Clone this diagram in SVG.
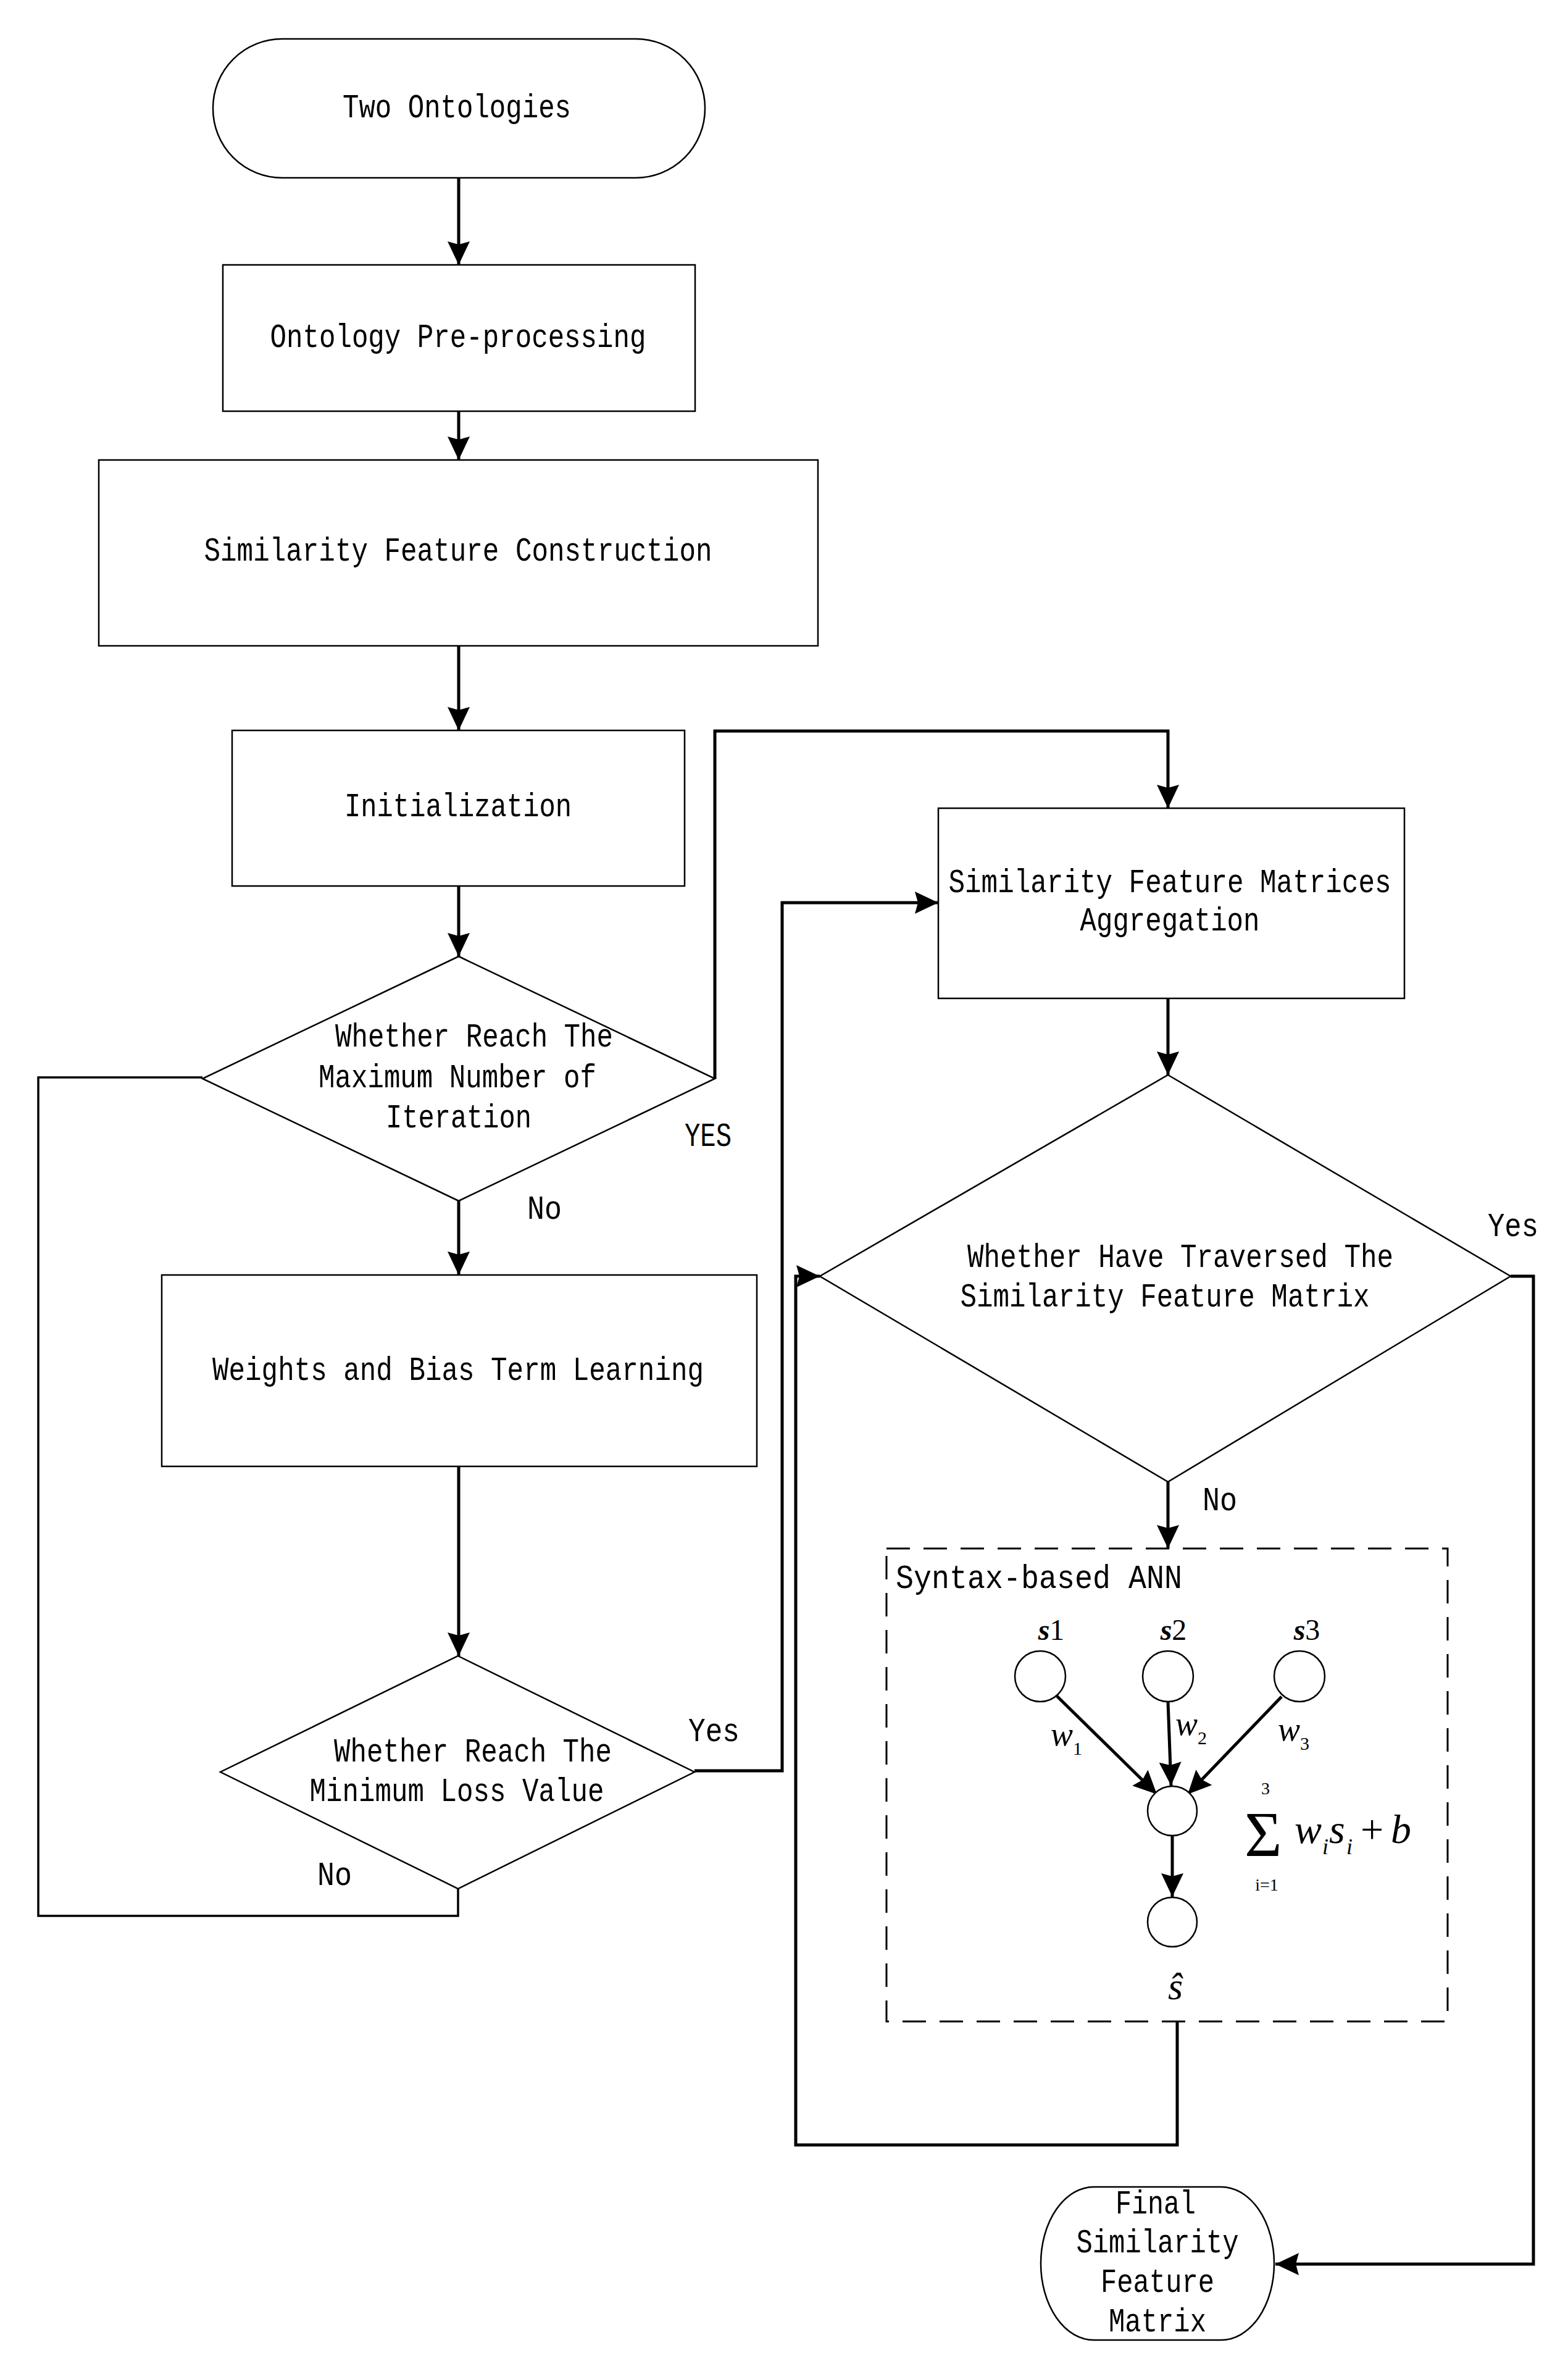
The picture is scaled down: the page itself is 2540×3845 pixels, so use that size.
<svg xmlns="http://www.w3.org/2000/svg" width="2540" height="3845" viewBox="0 0 2540 3845">
<style>
.node{fill:#fff;stroke:#000;stroke-width:2.5}
.t{font-family:"Liberation Mono","DejaVu Sans Mono",monospace;font-size:54px;fill:#000;text-anchor:middle}
.lb{font-family:"Liberation Mono","DejaVu Sans Mono",monospace;font-size:54px;fill:#000}
.c{fill:none;stroke:#000;stroke-width:5}
.thin{fill:none;stroke:#000;stroke-width:3.5}
.m{font-family:"Liberation Serif","Times New Roman",serif;fill:#000}
</style>
<defs>
<marker id="ah" viewBox="0 0 38 36" refX="38" refY="18" markerWidth="38" markerHeight="36" markerUnits="userSpaceOnUse" orient="auto">
<path d="M0,0 L38,18 L0,36 L5,18 z" fill="#000"/>
</marker>
</defs>
<rect width="2540" height="3845" fill="#fff"/>

<g id="connectors">
<path class="c" d="M743,288 L743,429" marker-end="url(#ah)"/>
<path class="c" d="M743,666 L743,745" marker-end="url(#ah)"/>
<path class="c" d="M743,1046 L743,1183" marker-end="url(#ah)"/>
<path class="c" d="M743,1435 L743,1549" marker-end="url(#ah)"/>
<path class="c" d="M743,1945 L743,2065" marker-end="url(#ah)"/>
<path class="c" d="M743,2375 L743,2682" marker-end="url(#ah)"/>
<path class="thin" d="M742,3059 L742,3103 L62,3103 L62,1745 L328,1745"/>
<path class="c" d="M1158,1747 L1158,1184 L1892,1184 L1892,1309" marker-end="url(#ah)"/>
<path class="c" d="M1125,2868 L1267,2868 L1267,1462 L1520,1462" marker-end="url(#ah)"/>
<path class="c" d="M1892,1617 L1892,1741" marker-end="url(#ah)"/>
<path class="c" d="M1892,2400 L1892,2508" marker-end="url(#ah)"/>
<path class="c" d="M1907,3274 L1907,3474 L1289,3474 L1289,2067 L1328,2067" marker-end="url(#ah)"/>
<path class="c" d="M2447,2067 L2484,2067 L2484,3667 L2066,3667" marker-end="url(#ah)"/>
<path class="c" d="M1712,2747 L1874,2906" marker-end="url(#ah)"/>
<path class="c" d="M1892,2756 L1897,2892" marker-end="url(#ah)"/>
<path class="c" d="M2076,2748 L1924,2906" marker-end="url(#ah)"/>
<path class="c" d="M1899,2974 L1899,3072" marker-end="url(#ah)"/>
</g>

<g id="start">
<rect class="node" x="345" y="63" width="797" height="225" rx="112" ry="112"/>
<text class="t" x="740" y="190" textLength="370" lengthAdjust="spacingAndGlyphs">Two Ontologies</text>
</g>

<g id="preprocessing">
<rect class="node" x="361" y="429" width="765" height="237"/>
<text class="t" x="742" y="562" textLength="609" lengthAdjust="spacingAndGlyphs">Ontology Pre-processing</text>
</g>

<g id="construction">
<rect class="node" x="160" y="745" width="1165" height="301"/>
<text class="t" x="742" y="908" textLength="823" lengthAdjust="spacingAndGlyphs">Similarity Feature Construction</text>
</g>

<g id="initialization">
<rect class="node" x="376" y="1183" width="733" height="252"/>
<text class="t" x="742" y="1322" textLength="368" lengthAdjust="spacingAndGlyphs">Initialization</text>
</g>

<g id="decision-iteration">
<polygon class="node" points="743,1549 1158,1747 743,1945 328,1747"/>
<text class="t" x="768" y="1695" textLength="450" lengthAdjust="spacingAndGlyphs">Whether Reach The</text>
<text class="t" x="741" y="1761" textLength="450" lengthAdjust="spacingAndGlyphs">Maximum Number of</text>
<text class="t" x="743" y="1826" textLength="236" lengthAdjust="spacingAndGlyphs">Iteration</text>
<text class="lb" x="1109" y="1856" textLength="76" lengthAdjust="spacingAndGlyphs">YES</text>
<text class="lb" x="854" y="1974" textLength="56" lengthAdjust="spacingAndGlyphs">No</text>
</g>

<g id="learning">
<rect class="node" x="262" y="2065" width="964" height="310"/>
<text class="t" x="742" y="2235" textLength="796" lengthAdjust="spacingAndGlyphs">Weights and Bias Term Learning</text>
</g>

<g id="decision-loss">
<polygon class="node" points="742,2682 1125,2870 742,3059 357,2870"/>
<text class="t" x="766" y="2853" textLength="450" lengthAdjust="spacingAndGlyphs">Whether Reach The</text>
<text class="t" x="740" y="2917" textLength="477" lengthAdjust="spacingAndGlyphs">Minimum Loss Value</text>
<text class="lb" x="1115" y="2820" textLength="83" lengthAdjust="spacingAndGlyphs">Yes</text>
<text class="lb" x="514" y="3053" textLength="56" lengthAdjust="spacingAndGlyphs">No</text>
</g>

<g id="aggregation">
<rect class="node" x="1520" y="1309" width="755" height="308"/>
<text class="t" x="1895" y="1445" textLength="717" lengthAdjust="spacingAndGlyphs">Similarity Feature Matrices</text>
<text class="t" x="1895" y="1507" textLength="291" lengthAdjust="spacingAndGlyphs">Aggregation</text>
</g>

<g id="decision-traversed">
<polygon class="node" points="1892,1741 2447,2067 1892,2400 1328,2067"/>
<text class="t" x="1912" y="2052" textLength="690" lengthAdjust="spacingAndGlyphs">Whether Have Traversed The</text>
<text class="t" x="1887" y="2116" textLength="663" lengthAdjust="spacingAndGlyphs">Similarity Feature Matrix</text>
<text class="lb" x="2410" y="2002" textLength="82" lengthAdjust="spacingAndGlyphs">Yes</text>
<text class="lb" x="1948" y="2446" textLength="56" lengthAdjust="spacingAndGlyphs">No</text>
</g>

<g id="ann">
<rect x="1436" y="2508" width="909" height="766" fill="none" stroke="#000" stroke-width="3" stroke-dasharray="38 22"/>
<text class="lb" x="1451" y="2572" textLength="464" lengthAdjust="spacingAndGlyphs">Syntax-based ANN</text>
<circle class="node" cx="1685" cy="2715" r="41" stroke-width="3"/>
<circle class="node" cx="1892" cy="2715" r="41" stroke-width="3"/>
<circle class="node" cx="2105" cy="2715" r="41" stroke-width="3"/>
<circle class="node" cx="1899" cy="2933" r="40" stroke-width="3"/>
<circle class="node" cx="1899" cy="3113" r="40" stroke-width="3"/>
<text class="m" x="1703" y="2656" font-size="48" text-anchor="middle"><tspan font-style="italic" font-weight="bold">s</tspan>1</text>
<text class="m" x="1901" y="2656" font-size="48" text-anchor="middle"><tspan font-style="italic" font-weight="bold">s</tspan>2</text>
<text class="m" x="2117" y="2656" font-size="48" text-anchor="middle"><tspan font-style="italic" font-weight="bold">s</tspan>3</text>
<text class="m" x="1702" y="2827" font-size="54" font-style="italic">w</text>
<text class="m" x="1738" y="2842" font-size="30">1</text>
<text class="m" x="1904" y="2810" font-size="54" font-style="italic">w</text>
<text class="m" x="1940" y="2825" font-size="30">2</text>
<text class="m" x="2070" y="2819" font-size="54" font-style="italic">w</text>
<text class="m" x="2106" y="2834" font-size="30">3</text>
<text class="m" x="2016" y="3006" font-size="104">Σ</text>
<text class="m" x="2050" y="2906" font-size="28" text-anchor="middle">3</text>
<text class="m" x="2052" y="3062" font-size="28" text-anchor="middle">i=1</text>
<text class="m" font-size="66"><tspan x="2097" y="2985" font-style="italic">w</tspan><tspan x="2142" y="3003" font-size="36" font-style="italic">i</tspan><tspan x="2153" y="2985" font-style="italic">s</tspan><tspan x="2181" y="3003" font-size="36" font-style="italic">i</tspan><tspan x="2204" y="2985">+</tspan><tspan x="2253" y="2985" font-style="italic">b</tspan></text>
<text class="m" x="1904" y="3238" font-size="62" font-style="italic" text-anchor="middle">ŝ</text>
</g>

<g id="final">
<rect class="node" x="1686" y="3542" width="378" height="248" rx="86" ry="124"/>
<text class="t" x="1872" y="3585" textLength="130" lengthAdjust="spacingAndGlyphs">Final</text>
<text class="t" x="1875" y="3648" textLength="263" lengthAdjust="spacingAndGlyphs">Similarity</text>
<text class="t" x="1875" y="3712" textLength="184" lengthAdjust="spacingAndGlyphs">Feature</text>
<text class="t" x="1875" y="3776" textLength="158" lengthAdjust="spacingAndGlyphs">Matrix</text>
</g>
</svg>
